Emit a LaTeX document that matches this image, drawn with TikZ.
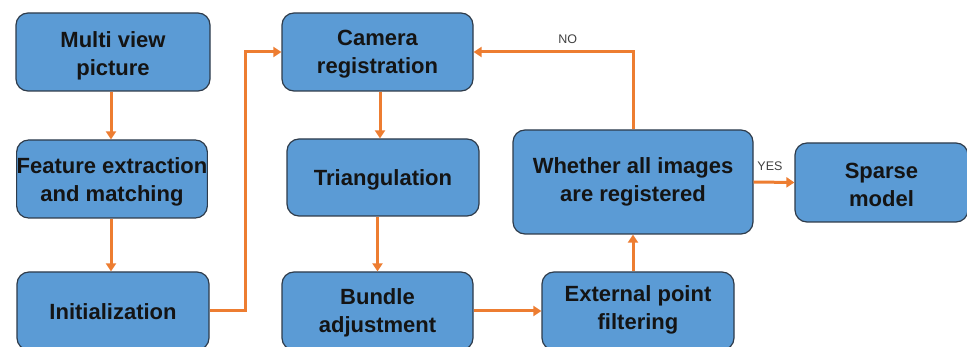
\documentclass[tikz,border=0pt]{standalone}
\usepackage{fontspec}
\setmainfont{Liberation Sans}
\usetikzlibrary{arrows.meta}
\definecolor{boxblue}{HTML}{5B9BD5}
\definecolor{boxedge}{HTML}{2E3B4A}
\definecolor{arrowor}{HTML}{ED7D31}
\definecolor{lbltext}{HTML}{404040}
\begin{document}
\begin{tikzpicture}[x=1pt,y=-1pt,
  stepbox/.style={draw=boxedge, line width=1.2pt, fill=boxblue, rounded corners=12pt,
    align=center, inner sep=0pt, text=black!92,
    font=\fontsize{22}{28}\selectfont\bfseries,
    text depth=0pt, text height=#1},
  stepbox/.default=47pt,
  flow/.style={draw=arrowor, line width=3pt, -{Triangle[width=10pt,length=8pt]}},
  lbl/.style={font=\fontsize{12.5}{14}\selectfont, text=lbltext, inner sep=0pt}]
\clip (0,0) rectangle (967,347);
\node[stepbox=48pt, minimum width=194pt, minimum height=78pt] (mv) at (113,52) {Multi view\\picture};
\node[stepbox=45pt, minimum width=190pt, minimum height=78pt] (fe) at (112,179) {Feature extraction\\and matching};
\node[stepbox=17pt, minimum width=192pt, minimum height=78pt] (init) at (113,311) {Initialization};
\node[stepbox=44pt, minimum width=191pt, minimum height=78pt] (cam) at (377.5,52) {Camera\\registration};
\node[stepbox=17pt, minimum width=192pt, minimum height=77pt] (tri) at (383,177.5) {Triangulation};
\node[stepbox=44pt, minimum width=191pt, minimum height=78pt] (ba) at (377.5,311) {Bundle\\adjustment};
\node[stepbox=40pt, minimum width=240pt, minimum height=104pt] (wh) at (633,182) {Whether all images\\are registered};
\node[stepbox=48pt, minimum width=173pt, minimum height=79pt] (sp) at (881.5,182.5) {Sparse\\model};
\node[stepbox=38pt, minimum width=192pt, minimum height=78pt] (ext) at (638,311) {External point\\filtering};

\draw[flow] ([xshift=-2pt]mv.south) -- ([xshift=-2pt]mv.south |- fe.north);
\draw[flow] ([xshift=-1pt]fe.south) -- ([xshift=-1pt]fe.south |- init.north);
\draw[flow] (init.east) -- ([xshift=36pt]init.east) |- (cam.west);
\draw[flow] ([xshift=2.5pt]cam.south) -- ([xshift=2.5pt]cam.south |- tri.north);
\draw[flow] (ba.north |- tri.south) -- (ba.north);
\draw[flow] (ba.east) -- (ext.west);
\draw[flow] (wh.south |- ext.north) -- (wh.south);
\draw[flow] (wh.north) |- (cam.east) node[lbl, pos=0.705, above=6.5pt] (no) {NO};
\draw[flow] (wh.east) -- (sp.west) node[lbl, pos=0.4, above=10pt] (yes) {YES};
\end{tikzpicture}
\end{document}
